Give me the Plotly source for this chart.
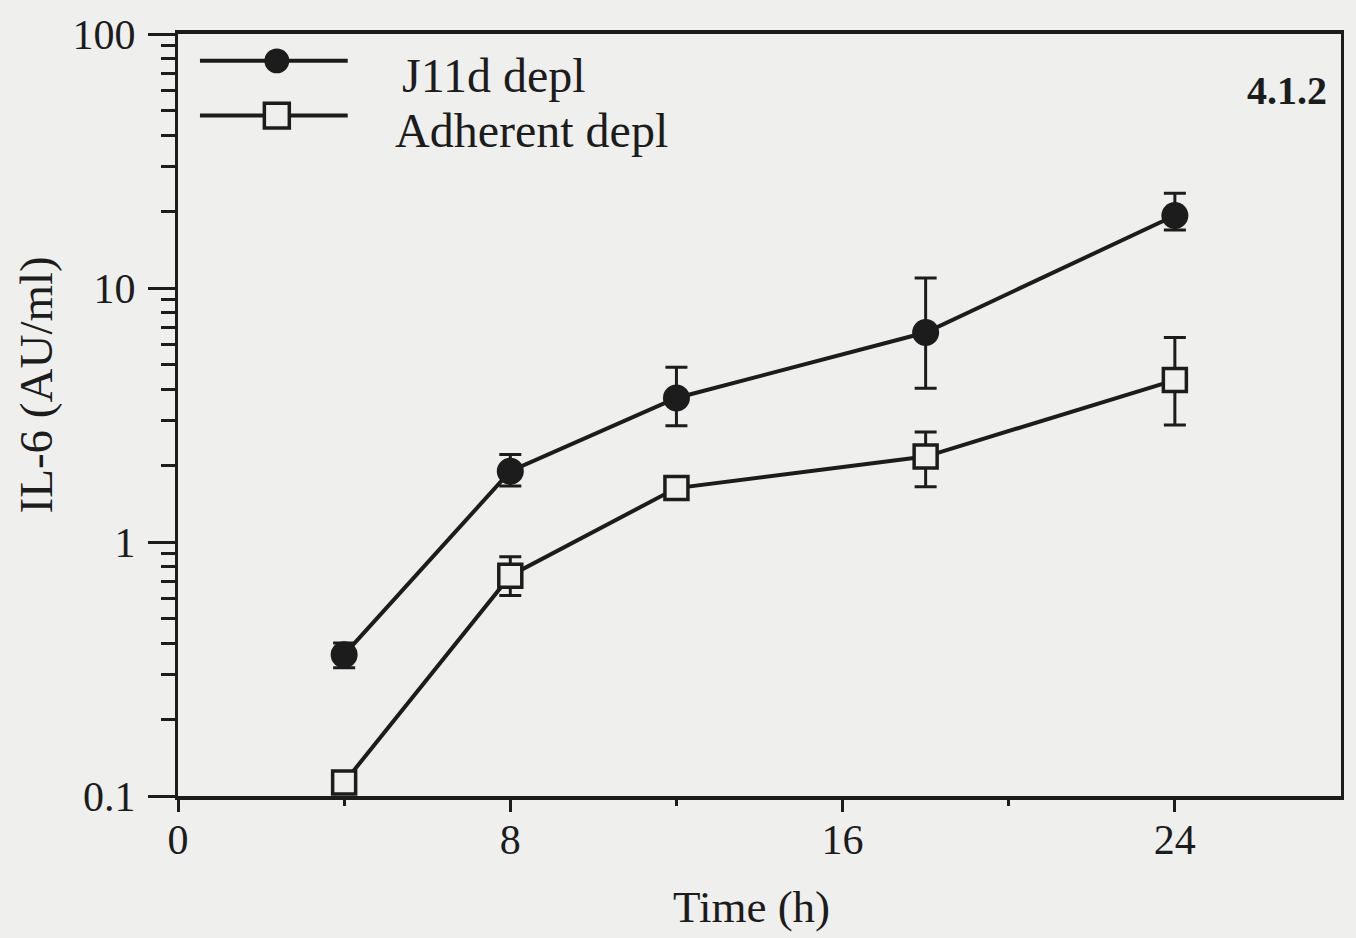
import plotly.graph_objects as go

# Sampling times (h)
time_h = [4, 8, 12, 18, 24]

# IL-6 (AU/ml), J11d-depleted cultures: mean and error-bar limits
j11d_mean = [0.36, 1.90, 3.69, 6.68, 19.3]
j11d_upper = [0.40, 2.21, 4.88, 10.96, 23.6]
j11d_lower = [0.32, 1.66, 2.87, 4.03, 16.9]

# IL-6 (AU/ml), adherent-depleted cultures: mean and error-bar limits
adh_mean = [0.113, 0.737, 1.63, 2.17, 4.34]
adh_upper = [0.113, 0.875, 1.63, 2.71, 6.39]
adh_lower = [0.113, 0.616, 1.63, 1.65, 2.89]

series_names = ["J11d depl", "Adherent depl"]
panel_label = "4.1.2"
x_title = "Time (h)"
y_title = "IL-6 (AU/ml)"

x_ticks = [0, 8, 16, 24]
x_minor_ticks = [4, 12, 20]
y_ticks = [0.1, 1, 10, 100]
y_tick_text = ["0.1", "1", "10", "100"]
y_minor_ticks = [m * d for d in (0.1, 1, 10) for m in range(2, 10)]

INK = "#1c1c1c"
BG = "#efefed"
FONT = "Liberation Serif"

W, H = 1356, 938
L, R, T, B = 178, 13, 30, 142
PW, PH = W - L - R, H - T - B


def px(xp):
    return (xp - L) / PW


def py(yp):
    return (H - B - yp) / PH


def err(mean, upper, lower):
    return dict(
        type="data",
        symmetric=False,
        array=[u - m for u, m in zip(upper, mean)],
        arrayminus=[m - lo for m, lo in zip(mean, lower)],
        color=INK,
        thickness=3,
        width=11,
    )


fig = go.Figure()
fig.add_trace(go.Scatter(
    x=time_h, y=j11d_mean, name=series_names[0], mode="lines+markers",
    line=dict(color=INK, width=4),
    marker=dict(symbol="circle", size=27, color=INK, line=dict(width=0)),
    error_y=err(j11d_mean, j11d_upper, j11d_lower),
    cliponaxis=False,
))
fig.add_trace(go.Scatter(
    x=time_h, y=adh_mean, name=series_names[1], mode="lines+markers",
    line=dict(color=INK, width=4),
    marker=dict(symbol="square", size=23, color=BG, line=dict(width=3.5, color=INK)),
    error_y=err(adh_mean, adh_upper, adh_lower),
    cliponaxis=False,
))

# Legend drawn as line + symbol swatches with text labels
shapes = []
annotations = []
legend_rows = [(57, "circle", series_names[0], 400), (112, "square", series_names[1], 393)]
for yp, sym, label, tx in legend_rows:
    shapes.append(dict(type="line", xref="paper", yref="paper",
                       x0=px(200), x1=px(348), y0=py(yp), y1=py(yp),
                       line=dict(color=INK, width=4)))
    r = 12.5
    if sym == "circle":
        shapes.append(dict(type="circle", xref="paper", yref="paper",
                           x0=px(277 - r), x1=px(277 + r), y0=py(yp + r), y1=py(yp - r),
                           fillcolor=INK, line=dict(color=INK, width=0)))
    else:
        shapes.append(dict(type="rect", xref="paper", yref="paper",
                           x0=px(277 - r), x1=px(277 + r), y0=py(yp + r), y1=py(yp - r),
                           fillcolor=BG, line=dict(color=INK, width=3.5)))
    annotations.append(dict(xref="paper", yref="paper", x=px(tx), y=py(yp + 15),
                            text=label, showarrow=False, xanchor="left", yanchor="middle",
                            font=dict(family=FONT, size=48, color=INK)))

annotations.append(dict(xref="paper", yref="paper", x=px(1331), y=py(87),
                        text="<b>" + panel_label + "</b>", showarrow=False,
                        xanchor="right", yanchor="middle",
                        font=dict(family=FONT, size=40, color=INK)))

# Axis titles
annotations.append(dict(xref="paper", yref="paper", x=px(752), y=py(908),
                        text=x_title, showarrow=False, xanchor="center", yanchor="middle",
                        font=dict(family=FONT, size=45, color=INK)))
annotations.append(dict(xref="paper", yref="paper", x=px(36), y=py(383),
                        text=y_title, showarrow=False, xanchor="center", yanchor="middle",
                        textangle=-90,
                        font=dict(family=FONT, size=47, color=INK)))

fig.update_layout(
    width=W, height=H,
    margin=dict(l=L, r=R, t=T, b=B, pad=0),
    paper_bgcolor=BG, plot_bgcolor=BG,
    showlegend=False,
    font=dict(family=FONT, color=INK),
    shapes=shapes,
    annotations=annotations,
    xaxis=dict(
        range=[0, 28], tickmode="array", tickvals=x_ticks,
        ticks="outside", ticklen=12, tickwidth=3, tickcolor=INK,
        showline=True, linewidth=4, linecolor=INK, mirror=True,
        showgrid=False, zeroline=False,
        tickfont=dict(family=FONT, size=42, color=INK),
        ticklabelstandoff=-8,
        minor=dict(tickmode="array", tickvals=x_minor_ticks, ticks="outside",
                   ticklen=6, tickwidth=3, tickcolor=INK, showgrid=False),
    ),
    yaxis=dict(
        type="log", range=[-1, 2], tickmode="array", tickvals=y_ticks, ticktext=y_tick_text,
        ticks="outside", ticklen=27, tickwidth=3, tickcolor=INK,
        showline=True, linewidth=3, linecolor=INK, mirror=True,
        showgrid=False, zeroline=False,
        tickfont=dict(family=FONT, size=42, color=INK),
        ticklabelstandoff=4,
        minor=dict(tickmode="array", tickvals=y_minor_ticks, ticks="outside",
                   ticklen=14, tickwidth=3, tickcolor=INK, showgrid=False),
    ),
)

fig.write_html("out.html")
